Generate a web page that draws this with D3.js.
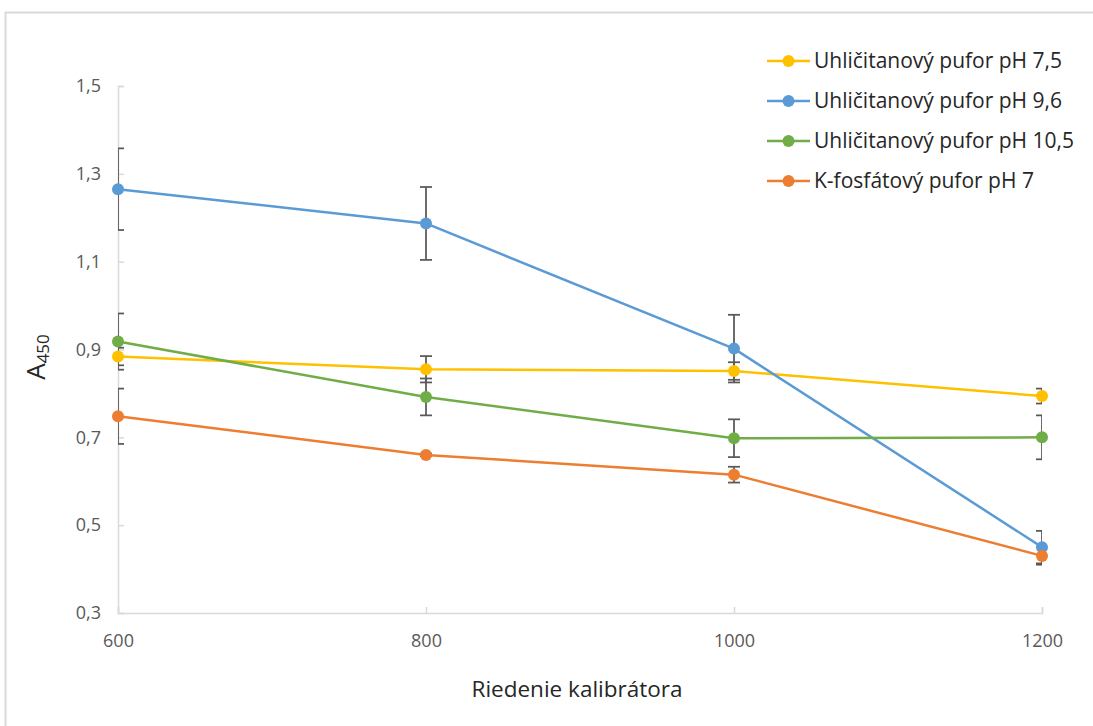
<!DOCTYPE html>
<html><head><meta charset="utf-8">
<script src="https://cdn.jsdelivr.net/npm/d3@7/dist/d3.min.js"></script>
<style>body{margin:0;background:#fff;}svg{display:block;font-family:"Open Sans",sans-serif;}</style>
</head><body><svg id="c" width="1093" height="726"></svg>
<script>
const xValues = [600, 800, 1000, 1200];
const xTickLabels = ["600", "800", "1000", "1200"];
const yTicks = [0.3, 0.5, 0.7, 0.9, 1.1, 1.3, 1.5];
const seriesNames = ["Uhličitanový pufor pH 7,5", "Uhličitanový pufor pH 9,6", "Uhličitanový pufor pH 10,5", "K-fosfátový pufor pH 7"];
const seriesColors = ["#FFC000", "#5B9BD5", "#70AD47", "#ED7D31"];
const yellowVals = [0.884, 0.855, 0.851, 0.794];
const yellowErr = [0.020, 0.030, 0.020, 0.017];
const blueVals = [1.265, 1.187, 0.902, 0.450];
const blueErr = [0.093, 0.083, 0.077, 0.037];
const greenVals = [0.918, 0.792, 0.698, 0.700];
const greenErr = [0.064, 0.042, 0.043, 0.050];
const orangeVals = [0.748, 0.660, 0.615, 0.430];
const orangeErr = [0.063, 0.003, 0.018, 0.020];

const series = [
  {name: seriesNames[0], color: seriesColors[0], vals: yellowVals, err: yellowErr},
  {name: seriesNames[1], color: seriesColors[1], vals: blueVals, err: blueErr},
  {name: seriesNames[2], color: seriesColors[2], vals: greenVals, err: greenErr},
  {name: seriesNames[3], color: seriesColors[3], vals: orangeVals, err: orangeErr}
];

const svg = d3.select("#c");
const L = 118, R = 1042, T = 86, B = 613;
const x = d3.scaleLinear().domain([600, 1200]).range([L, R]);
const y = d3.scaleLinear().domain([0.3, 1.5]).range([B, T]);
const fmt = d => d3.format(".1f")(d).replace(".", ",");

// outer frame
svg.append("rect").attr("x", 5.5).attr("y", 12.5).attr("width", 1100).attr("height", 730)
  .attr("fill", "none").attr("stroke", "#d9d9d9").attr("stroke-width", 2);

// axes
const yAxis = d3.axisLeft(y).tickValues(yTicks).tickFormat(fmt).tickSize(-6).tickPadding(17);
const gy = svg.append("g").attr("transform", `translate(${L},0)`).call(yAxis);
gy.select(".domain").attr("stroke", "#d9d9d9").attr("stroke-width", 1.5);
gy.selectAll(".tick line").attr("stroke", "#d9d9d9").attr("stroke-width", 1.5);
gy.selectAll(".tick text").attr("fill", "#595959").style("font-size", "18px").style("font-family", "'Open Sans',sans-serif");

const xAxis = d3.axisBottom(x).tickValues(xValues).tickFormat((d, i) => xTickLabels[i]).tickSize(-6).tickPadding(21);
const gx = svg.append("g").attr("transform", `translate(0,${B})`).call(xAxis);
gx.select(".domain").attr("stroke", "#d9d9d9").attr("stroke-width", 1.5);
gx.selectAll(".tick line").attr("stroke", "#d9d9d9").attr("stroke-width", 1.5);
gx.selectAll(".tick text").attr("fill", "#595959").style("font-size", "18px").style("font-family", "'Open Sans',sans-serif");

// clip
svg.append("clipPath").attr("id", "plot").append("rect")
  .attr("x", L).attr("y", 0).attr("width", R - L).attr("height", 726);

const plot = svg.append("g").attr("clip-path", "url(#plot)");
const line = d3.line().x((d, i) => x(xValues[i])).y(d => y(d));

// error bars
series.forEach(s => {
  const g = plot.append("g");
  s.vals.forEach((v, i) => {
    const cx = x(xValues[i]);
    const y1 = y(v + s.err[i]), y2 = y(v - s.err[i]);
    g.append("line").attr("x1", cx).attr("x2", cx).attr("y1", y1).attr("y2", y2)
      .attr("stroke", "#595959").attr("stroke-width", 1.75);
    [y1, y2].forEach(yy => g.append("line").attr("x1", cx - 6).attr("x2", cx + 6)
      .attr("y1", yy).attr("y2", yy).attr("stroke", "#595959").attr("stroke-width", 1.75));
  });
});

// lines + markers
series.forEach(s => {
  svg.append("path").datum(s.vals).attr("d", line).attr("fill", "none")
    .attr("stroke", s.color).attr("stroke-width", 2.5).attr("stroke-linejoin", "round");
  svg.append("g").selectAll("circle").data(s.vals).join("circle")
    .attr("cx", (d, i) => x(xValues[i])).attr("cy", d => y(d)).attr("r", 6)
    .attr("fill", s.color);
});

// legend
const lg = svg.append("g");
series.forEach((s, i) => {
  const yy = 61 + i * 40;
  lg.append("line").attr("x1", 767).attr("x2", 810).attr("y1", yy).attr("y2", yy)
    .attr("stroke", s.color).attr("stroke-width", 2.5);
  lg.append("circle").attr("cx", 788.5).attr("cy", yy).attr("r", 6).attr("fill", s.color);
  lg.append("text").attr("x", 814).attr("y", yy).attr("dy", "0.35em")
    .attr("fill", "#262626").style("font-size", "21px").text(s.name);
});

// axis titles
svg.append("text").attr("x", 577).attr("y", 697).attr("text-anchor", "middle")
  .attr("fill", "#262626").style("font-size", "22.5px").text("Riedenie kalibrátora");
const yt = svg.append("text").attr("transform", "translate(45,357) rotate(-90)")
  .attr("text-anchor", "middle").attr("fill", "#262626");
yt.append("tspan").style("font-size", "26px").text("A");
yt.append("tspan").style("font-size", "17px").attr("dy", "4").text("450");
</script></body></html>
